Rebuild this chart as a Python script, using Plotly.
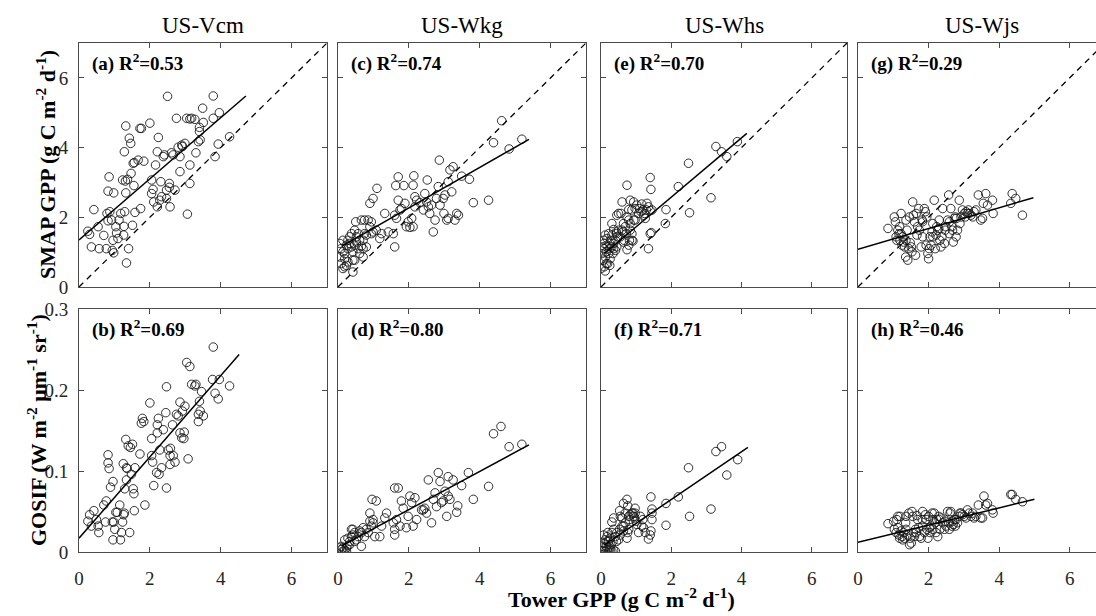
import plotly.graph_objects as go

# ---------------- data ----------------
sites = ["US-Vcm", "US-Wkg", "US-Whs", "US-Wjs"]
panel_letters = ["a", "b", "c", "d", "e", "f", "g", "h"]
r2_values = ["0.53", "0.69", "0.74", "0.80", "0.70", "0.71", "0.29", "0.46"]

x_ticks = [0, 2, 4, 6]
smap_ticks = [0, 2, 4, 6]
gosif_ticks = [0, 0.1, 0.2, 0.3]
gosif_ticklabels = ["0", "0.1", "0.2", "0.3"]
one_to_one = [0, 7]

# regression lines (slope, intercept, x start, x end) per panel a..h
fit_slope = [0.877, 0.0502, 0.58, 0.0236, 0.851, 0.0295, 0.298, 0.0106]
fit_intercept = [1.35, 0.017, 1.11, 0.0051, 0.876, 0.0058, 1.08, 0.012]
fit_x0 = [0.0, 0.0, 0.1, 0.1, 0.1, 0.1, 0.0, 0.0]
fit_x1 = [4.71, 4.52, 5.39, 5.39, 4.15, 4.18, 4.97, 5.0]

# (tower GPP, product) pairs
vcm_smap = [(0.25,1.60),(0.30,1.51),(0.42,2.22),(0.35,1.15),(0.57,1.10),(0.54,1.73),(0.70,1.48),(0.77,1.10),(0.79,2.11),(0.82,1.90),
            (0.82,2.75),(0.85,3.16),(0.98,2.70),(0.87,2.16),(0.92,1.92),(0.94,1.05),(0.96,1.34),(0.98,0.98),(1.04,1.73),(1.06,1.55),
            (1.10,1.39),(1.13,1.92),(1.18,2.11),(1.23,3.07),(1.26,1.49),(1.27,1.74),(1.28,3.88),(1.29,2.16),(1.31,3.04),(1.32,4.62),
            (1.32,2.70),(1.34,0.69),(1.37,3.09),(1.40,1.10),(1.42,4.27),(1.46,4.12),(1.47,3.26),(1.51,1.77),(1.53,3.55),(1.56,3.57),
            (1.55,2.91),(1.58,2.14),(1.67,3.64),(1.72,4.55),(1.76,4.55),(1.83,3.61),(1.74,2.25),(2.00,4.70),(2.05,3.07),(2.09,2.80),
            (2.05,2.68),(2.11,2.44),(2.16,3.50),(2.21,3.88),(2.21,2.30),(2.24,4.29),(2.28,2.49),(2.33,2.59),(2.31,3.02),(2.38,3.74),
            (2.41,3.79),(2.47,2.54),(2.47,2.78),(2.50,5.47),(2.55,2.86),(2.55,2.97),(2.57,2.30),(2.61,3.85),(2.66,3.79),(2.71,2.78),
            (2.75,4.84),(2.80,4.01),(2.85,3.31),(2.85,3.74),(2.90,4.07),(2.92,4.03),(2.99,4.12),(3.04,4.84),(3.13,4.82),(3.13,3.50),
            (3.06,2.09),(3.13,2.97),(3.18,4.84),(3.27,4.81),(3.30,3.85),(3.37,4.17),(3.40,4.46),(3.42,4.22),(3.40,4.58),(3.49,5.13),
            (3.51,4.72),(3.79,5.48),(3.84,3.74),(3.79,4.84),(3.93,4.10),(3.96,5.00),(4.25,4.31)]

vcm_gosif = [(0.25,0.038),(0.30,0.046),(0.42,0.051),(0.35,0.032),(0.49,0.040),(0.56,0.024),(0.54,0.032),(0.70,0.058),(0.75,0.037),(0.77,0.063),
             (0.82,0.120),(0.82,0.110),(0.85,0.103),(0.89,0.080),(0.96,0.087),(0.94,0.037),(0.96,0.015),(0.98,0.037),(1.01,0.028),(1.04,0.049),
             (1.08,0.049),(1.15,0.058),(1.17,0.015),(1.20,0.024),(1.23,0.037),(1.25,0.109),(1.26,0.046),(1.28,0.048),(1.29,0.078),(1.32,0.139),
             (1.34,0.104),(1.36,0.103),(1.34,0.089),(1.39,0.131),(1.43,0.024),(1.45,0.129),(1.48,0.096),(1.51,0.133),(1.53,0.078),(1.55,0.072),
             (1.56,0.051),(1.58,0.104),(1.72,0.121),(1.76,0.159),(1.79,0.165),(1.83,0.161),(1.86,0.058),(2.00,0.184),(2.05,0.140),(2.05,0.119),
             (2.08,0.111),(2.11,0.082),(2.19,0.098),(2.21,0.147),(2.21,0.157),(2.24,0.165),(2.26,0.096),(2.28,0.126),(2.33,0.104),(2.38,0.151),
             (2.45,0.172),(2.47,0.079),(2.47,0.204),(2.52,0.126),(2.57,0.119),(2.57,0.108),(2.58,0.128),(2.64,0.157),(2.71,0.111),(2.75,0.170),
             (2.80,0.168),(2.85,0.147),(2.85,0.185),(2.90,0.141),(2.92,0.174),(2.96,0.140),(2.99,0.180),(3.04,0.234),(3.08,0.115),(3.13,0.229),
             (3.18,0.207),(3.27,0.205),(3.30,0.207),(3.37,0.170),(3.37,0.161),(3.40,0.186),(3.42,0.174),(3.46,0.198),(3.51,0.168),(3.79,0.253),
             (3.77,0.213),(3.84,0.196),(3.93,0.189),(3.96,0.213),(4.25,0.205),(2.97,0.148),(2.66,0.119)]

wkg_smap = [(0.05,1.25),(0.09,1.10),(0.14,1.01),(0.19,0.96),(0.05,0.86),(0.09,0.67),(0.19,0.58),(0.14,1.34),(0.24,1.20),(0.28,1.10),
            (0.33,1.25),(0.38,1.15),(0.42,1.01),(0.47,1.20),(0.52,1.29),(0.57,1.10),(0.61,1.34),(0.66,1.17),(0.71,1.10),(0.28,1.34),
            (0.33,1.44),(0.19,0.81),(0.24,0.62),(0.42,0.43),(0.47,0.77),(0.52,1.44),(0.57,1.53),(0.38,1.53),(0.61,0.96),(0.71,1.34),
            (0.75,1.53),(0.80,1.15),(0.47,1.63),(0.50,1.87),(0.66,1.92),(0.90,1.73),(0.94,1.53),(0.99,1.58),(1.08,1.63),(1.18,1.39),
            (1.23,1.53),(1.32,2.11),(1.42,1.58),(1.56,1.53),(1.60,1.15),(1.60,2.06),(1.65,1.97),(1.70,2.49),(1.75,2.21),(1.79,2.25),
            (1.89,2.40),(1.93,1.73),(1.98,1.87),(2.03,1.71),(2.08,1.97),(2.12,1.73),(2.17,2.59),(2.12,2.92),(2.17,2.30),(2.22,2.49),
            (2.31,2.42),(2.41,2.21),(2.45,2.68),(2.50,2.44),(2.55,2.30),(2.59,2.11),(2.64,2.35),(2.74,1.92),(2.69,1.58),(2.78,2.54),
            (2.83,2.88),(2.86,3.64),(2.88,2.35),(2.97,2.54),(2.99,2.11),(3.02,2.64),(3.07,1.92),(3.11,1.97),(3.11,3.02),(3.16,3.36),
            (3.21,2.73),(3.25,3.45),(3.30,1.92),(3.35,2.11),(3.40,2.06),(3.49,3.18),(3.71,3.09),(3.82,2.42),(4.25,2.49),(4.39,4.14),
            (4.62,4.77),(4.83,3.96),(5.19,4.24),(0.90,2.40),(0.99,2.54),(1.10,2.83),(0.94,1.87),(0.75,1.92),(0.80,1.49),(0.14,0.53),
            (0.28,0.72),(0.71,0.86),(0.42,0.77),(0.85,1.92),(1.70,3.16),(1.63,2.91),(1.86,2.91),(2.14,3.19),(2.52,3.07)]

wkg_gosif = [(0.05,0.005),(0.09,0.003),(0.14,0.005),(0.19,0.002),(0.24,0.005),(0.09,0.007),(0.28,0.008),(0.14,0.001),(0.24,0.001),(0.33,0.009),
             (0.19,0.015),(0.28,0.017),(0.38,0.019),(0.42,0.021),(0.47,0.024),(0.42,0.028),(0.52,0.015),(0.57,0.019),(0.61,0.026),(0.66,0.024),
             (0.71,0.030),(0.66,0.007),(0.75,0.019),(0.80,0.028),(0.90,0.038),(0.94,0.032),(0.99,0.036),(1.04,0.019),(0.99,0.040),(1.18,0.019),
             (1.23,0.032),(1.32,0.042),(1.37,0.048),(1.56,0.036),(1.60,0.021),(1.60,0.028),(1.60,0.079),(1.70,0.079),(1.65,0.040),(1.75,0.032),
             (1.79,0.063),(1.84,0.054),(1.93,0.030),(1.98,0.044),(2.03,0.069),(2.08,0.061),(2.12,0.032),(2.17,0.067),(2.22,0.040),(2.36,0.052),
             (2.41,0.052),(2.45,0.054),(2.50,0.048),(2.55,0.089),(2.64,0.036),(2.69,0.065),(2.74,0.073),(2.78,0.056),(2.83,0.098),(2.88,0.087),
             (2.92,0.061),(2.97,0.063),(3.02,0.075),(3.07,0.044),(3.11,0.093),(3.11,0.069),(3.16,0.065),(3.25,0.089),(3.35,0.049),(3.38,0.057),
             (3.49,0.082),(3.68,0.098),(3.82,0.065),(4.25,0.081),(4.39,0.146),(4.60,0.155),(4.83,0.130),(5.19,0.133),(0.33,0.013),(0.47,0.013),
             (0.38,0.028),(0.90,0.048),(0.96,0.065),(1.08,0.063),(0.85,0.024)]

whs_smap = [(0.03,0.96),(0.06,0.77),(0.08,1.10),(0.09,0.58),(0.12,0.46),(0.12,0.86),(0.15,1.01),(0.17,1.20),(0.19,0.67),(0.22,0.96),
            (0.25,1.10),(0.26,0.81),(0.28,1.34),(0.31,1.15),(0.34,0.96),(0.36,1.25),(0.08,1.34),(0.12,1.49),(0.17,1.39),(0.22,1.53),
            (0.25,1.25),(0.31,1.49),(0.36,1.10),(0.41,1.34),(0.44,1.53),(0.45,1.15),(0.15,0.67),(0.25,0.62),(0.03,1.15),(0.09,1.25),
            (0.41,1.05),(0.47,1.44),(0.50,1.63),(0.55,1.44),(0.60,1.63),(0.62,1.58),(0.64,1.29),(0.66,1.34),(0.72,1.53),(0.74,1.07),
            (0.79,1.20),(0.81,1.34),(0.83,1.63),(0.88,1.34),(0.91,1.32),(0.74,2.01),(0.79,2.22),(0.83,2.49),(0.88,2.21),(0.93,2.44),
            (0.97,2.25),(1.02,2.35),(1.07,2.11),(1.10,2.25),(1.14,2.16),(1.16,2.38),(1.19,2.21),(1.21,2.06),(1.24,2.11),(1.26,1.97),
            (1.29,2.21),(1.31,2.40),(1.35,2.30),(1.40,2.19),(1.45,2.21),(0.74,2.92),(0.60,2.44),(0.50,2.11),(0.45,2.06),(0.31,1.82),
            (0.36,1.65),(0.44,1.58),(0.57,2.11),(0.64,1.82),(0.69,1.73),(0.79,1.92),(0.83,1.82),(0.93,1.92),(0.97,1.92),(0.88,1.53),
            (1.40,3.14),(1.42,2.80),(1.35,1.10),(1.40,1.53),(1.43,1.56),(1.83,1.82),(1.85,2.22),(2.20,2.88),(2.49,3.55),(2.52,2.13),
            (3.13,2.56),(3.27,4.03),(3.43,3.88),(3.58,3.74),(3.88,4.17),(0.00,0.53)]

whs_gosif = [(0.03,0.001),(0.08,0.002),(0.12,0.001),(0.17,0.003),(0.22,0.001),(0.26,0.002),(0.31,0.001),(0.36,0.002),(0.41,0.001),(0.06,0.005),
             (0.15,0.007),(0.25,0.005),(0.08,0.021),(0.12,0.015),(0.17,0.019),(0.22,0.013),(0.26,0.017),(0.31,0.024),(0.36,0.028),(0.41,0.019),
             (0.45,0.024),(0.09,0.011),(0.19,0.024),(0.28,0.009),(0.34,0.013),(0.44,0.013),(0.50,0.015),(0.53,0.028),(0.55,0.021),(0.60,0.032),
             (0.64,0.026),(0.69,0.036),(0.74,0.017),(0.76,0.024),(0.79,0.028),(0.81,0.040),(0.83,0.046),(0.88,0.048),(0.91,0.048),(0.93,0.044),
             (0.95,0.042),(0.97,0.048),(0.97,0.054),(1.00,0.038),(1.02,0.034),(1.07,0.024),(1.12,0.044),(1.16,0.032),(1.19,0.040),(1.21,0.030),
             (1.26,0.024),(1.35,0.016),(1.40,0.021),(1.42,0.026),(1.45,0.040),(1.45,0.048),(1.42,0.068),(1.45,0.053),(0.53,0.051),(0.60,0.042),
             (0.64,0.060),(0.74,0.065),(0.76,0.057),(0.36,0.042),(0.31,0.037),(0.55,0.044),(0.69,0.048),(0.79,0.044),(1.85,0.060),(1.85,0.033),
             (2.20,0.068),(2.49,0.104),(2.52,0.044),(3.13,0.053),(3.27,0.124),(3.43,0.130),(3.58,0.095),(3.89,0.114),(0.03,0.007),(0.17,0.013),
             (0.64,0.032)]

wjs_smap = [(0.85,1.68),(1.03,2.01),(1.06,1.87),(1.08,1.44),(1.10,1.34),(1.13,1.63),(1.16,1.53),(1.18,1.73),(1.19,1.34),(1.22,2.11),
            (1.25,1.20),(1.27,1.44),(1.29,1.29),(1.32,1.15),(1.35,0.86),(1.36,1.92),(1.39,1.63),(1.41,0.77),(1.44,1.10),(1.46,2.01),
            (1.48,1.27),(1.51,1.15),(1.53,1.01),(1.55,2.44),(1.57,2.06),(1.60,1.87),(1.63,0.91),(1.65,2.11),(1.67,1.49),(1.69,1.73),
            (1.72,2.25),(1.74,1.63),(1.79,1.15),(1.82,1.92),(1.83,1.87),(1.88,2.25),(1.91,2.16),(1.93,1.20),(1.95,2.01),(1.98,0.96),
            (2.00,0.81),(2.02,1.10),(2.04,1.44),(2.07,1.20),(2.10,1.58),(2.12,1.82),(2.16,2.49),(2.19,1.10),(2.21,1.49),(2.23,1.73),
            (2.26,1.63),(2.29,1.68),(2.30,1.92),(2.32,1.34),(2.35,1.15),(2.38,1.44),(2.40,2.25),(2.45,1.25),(2.47,1.63),(2.49,1.73),
            (2.54,1.92),(2.57,2.64),(2.59,1.87),(2.63,2.25),(2.66,1.73),(2.68,1.63),(2.70,1.29),(2.73,1.97),(2.76,2.01),(2.78,1.44),
            (2.79,1.97),(2.87,2.49),(2.89,1.82),(2.92,2.01),(2.96,2.21),(3.01,2.11),(3.04,2.01),(3.06,2.16),(3.10,2.11),(3.13,2.21),
            (3.15,2.11),(3.20,2.06),(3.25,2.01),(3.29,2.16),(3.34,2.21),(3.41,2.64),(3.48,1.92),(3.53,1.97),(3.55,2.40),(3.62,2.68),
            (3.67,2.35),(3.81,2.49),(3.83,2.11),(4.33,2.40),(4.37,2.68),(4.47,2.54),(4.66,2.06),(1.22,1.53),(1.36,1.34),(1.83,1.44),
            (2.12,1.44),(2.59,1.53),(2.82,1.63)]

wjs_gosif = [(0.85,0.035),(1.01,0.038),(1.03,0.028),(1.08,0.024),(1.10,0.040),(1.13,0.030),(1.16,0.021),(1.18,0.017),(1.19,0.044),(1.22,0.026),
             (1.25,0.019),(1.27,0.015),(1.29,0.024),(1.32,0.017),(1.35,0.036),(1.36,0.028),(1.41,0.021),(1.44,0.048),(1.46,0.009),(1.48,0.017),
             (1.51,0.011),(1.53,0.050),(1.55,0.044),(1.57,0.024),(1.60,0.019),(1.63,0.028),(1.67,0.045),(1.69,0.040),(1.72,0.030),(1.74,0.019),
             (1.79,0.017),(1.82,0.040),(1.83,0.050),(1.88,0.024),(1.91,0.046),(1.93,0.040),(1.95,0.028),(1.98,0.017),(2.00,0.044),(2.02,0.030),
             (2.04,0.024),(2.07,0.032),(2.10,0.048),(2.12,0.028),(2.16,0.048),(2.19,0.036),(2.21,0.024),(2.23,0.040),(2.26,0.019),(2.29,0.044),
             (2.30,0.040),(2.32,0.028),(2.35,0.042),(2.40,0.036),(2.45,0.028),(2.47,0.038),(2.49,0.032),(2.54,0.050),(2.57,0.036),(2.59,0.028),
             (2.61,0.048),(2.63,0.050),(2.66,0.032),(2.68,0.038),(2.70,0.034),(2.73,0.040),(2.76,0.032),(2.78,0.040),(2.82,0.036),(2.87,0.044),
             (2.89,0.048),(2.92,0.048),(2.96,0.046),(3.01,0.044),(3.06,0.042),(3.10,0.052),(3.15,0.048),(3.20,0.044),(3.25,0.048),(3.29,0.042),
             (3.34,0.044),(3.41,0.058),(3.48,0.042),(3.53,0.042),(3.57,0.069),(3.62,0.058),(3.67,0.060),(3.81,0.052),(3.83,0.048),(4.33,0.071),
             (4.37,0.071),(4.47,0.065),(4.66,0.062),(1.13,0.044),(1.36,0.044),(1.65,0.024),(1.83,0.032),(2.12,0.040)]

panel_data = [vcm_smap, vcm_gosif, wkg_smap, wkg_gosif, whs_smap, whs_gosif, wjs_smap, wjs_gosif]

# ---------------- layout geometry ----------------
W, H = 1096, 616
FONT = "Liberation Serif"
AX_COLOR = "#4a4a4a"
TXT_COLOR = "#262626"
col_px = [(79, 327), (338, 586), (601, 847), (858, 1105)]
row_px = [(43, 287), (309, 552)]

fig = go.Figure()
annotations = []
layout_axes = {}

for i, pts in enumerate(panel_data):
    col, row = i // 2, i % 2
    k = i + 1
    xs = [p[0] for p in pts]
    ys = [p[1] for p in pts]
    xa = f"x{k}" if k > 1 else "x"
    ya = f"y{k}" if k > 1 else "y"

    fig.add_trace(go.Scatter(x=xs, y=ys, mode="markers", xaxis=xa, yaxis=ya,
                             marker=dict(symbol="circle-open", size=8.5, color="#1a1a1a",
                                         line=dict(width=0.9, color="#1a1a1a")),
                             showlegend=False, hoverinfo="x+y"))
    if row == 0:
        fig.add_trace(go.Scatter(x=one_to_one, y=one_to_one, mode="lines", xaxis=xa, yaxis=ya,
                                 line=dict(color="black", width=1.3, dash="6px,5px"),
                                 showlegend=False, hoverinfo="skip"))
    fx = [fit_x0[i], fit_x1[i]]
    fy = [fit_intercept[i] + fit_slope[i] * v for v in fx]
    fig.add_trace(go.Scatter(x=fx, y=fy, mode="lines", xaxis=xa, yaxis=ya,
                             line=dict(color="black", width=1.5),
                             showlegend=False, hoverinfo="skip"))

    x0p, x1p = col_px[col]
    x1_vis = min(x1p, W)
    xmax = 7 * (x1_vis - x0p) / (x1p - x0p)
    y0p, y1p = row_px[row]

    xaxis = dict(domain=[x0p / W, x1_vis / W], range=[0, xmax], anchor=ya,
                 tickmode="array", tickvals=x_ticks, ticktext=[str(t) for t in x_ticks],
                 showticklabels=(row == 1), ticks="inside", ticklen=5, tickwidth=1,
                 tickcolor=AX_COLOR, showline=True, linecolor=AX_COLOR, linewidth=1,
                 mirror="ticks", showgrid=False, zeroline=False, fixedrange=True,
                 automargin=False, ticklabelstandoff=9)
    if row == 0:
        yvals, ytext, yrange = smap_ticks, [str(t) for t in smap_ticks], [0, 7]
    else:
        yvals, ytext, yrange = gosif_ticks, gosif_ticklabels, [0, 0.3]
    yaxis = dict(domain=[1 - y1p / H, 1 - y0p / H], range=yrange, anchor=xa,
                 tickmode="array", tickvals=yvals, ticktext=ytext,
                 showticklabels=(col == 0), ticks="inside", ticklen=5, tickwidth=1,
                 tickcolor=AX_COLOR, showline=True, linecolor=AX_COLOR, linewidth=1,
                 mirror=("ticks" if col < 3 else False), showgrid=False, zeroline=False,
                 fixedrange=True, automargin=False, ticklabelstandoff=6)
    suffix = "" if k == 1 else str(k)
    layout_axes["xaxis" + suffix] = xaxis
    layout_axes["yaxis" + suffix] = yaxis

    annotations.append(dict(
        text=f"<b>({panel_letters[i]}) R<sup>2</sup>=" + r2_values[i] + "</b>",
        x=(x0p + 11) / W, y=1 - (y0p + 19) / H, xref="paper", yref="paper",
        xanchor="left", yanchor="middle", showarrow=False,
        font=dict(family=FONT, size=19, color="black")))

for c, s in enumerate(sites):
    x0p, x1p = col_px[c]
    annotations.append(dict(text=s, x=((x0p + x1p) / 2) / W, y=1 - 25 / H,
                            xref="paper", yref="paper", xanchor="center", yanchor="middle",
                            showarrow=False, font=dict(family=FONT, size=23, color="black")))

annotations.append(dict(text="<b>SMAP GPP (g C m<sup>-2</sup> d<sup>-1</sup>)</b>",
                        x=46 / W, y=1 - 165 / H, xref="paper", yref="paper",
                        xanchor="center", yanchor="middle", textangle=-90, showarrow=False,
                        font=dict(family=FONT, size=22, color="black")))
annotations.append(dict(text="<b>GOSIF (W m<sup>-2</sup> \u03bcm<sup>-1</sup> sr<sup>-1</sup>)</b>",
                        x=37 / W, y=1 - 430 / H, xref="paper", yref="paper",
                        xanchor="center", yanchor="middle", textangle=-90, showarrow=False,
                        font=dict(family=FONT, size=22, color="black")))
annotations.append(dict(text="<b>Tower GPP (g C m<sup>-2</sup> d<sup>-1</sup>)</b>",
                        x=621 / W, y=1 - 598 / H, xref="paper", yref="paper",
                        xanchor="center", yanchor="middle", showarrow=False,
                        font=dict(family=FONT, size=22, color="black")))

fig.update_layout(template="none", width=W, height=H,
                  margin=dict(l=0, r=0, t=0, b=0, pad=0, autoexpand=False),
                  paper_bgcolor="white", plot_bgcolor="white",
                  annotations=annotations, showlegend=False,
                  font=dict(family=FONT, size=19, color=TXT_COLOR),
                  **layout_axes)
fig.update_xaxes(tickfont=dict(family=FONT, size=19, color=TXT_COLOR))
fig.update_yaxes(tickfont=dict(family=FONT, size=19, color=TXT_COLOR))

fig.write_html("out.html", config={"displayModeBar": False},
               post_script="document.body.style.margin='0';document.body.style.padding='0';")
